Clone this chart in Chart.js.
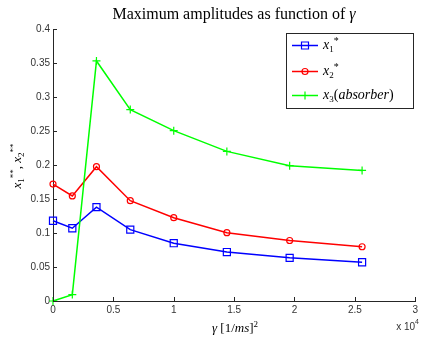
<!DOCTYPE html>
<html><head><meta charset="utf-8">
<script src="https://cdn.jsdelivr.net/npm/chart.js@4"></script>
<style>html,body{margin:0;padding:0;background:#fff}#wrap{width:421px;height:341px;position:relative}</style>
</head><body><div id="wrap"><canvas id="c" width="421" height="341"></canvas></div>
<script>
const gammaValues = [0, 1600, 3600, 6400, 10000, 14400, 19600, 25600];
const x1Values = [0.118, 0.107, 0.138, 0.105, 0.085, 0.072, 0.0635, 0.057];
const x2Values = [0.172, 0.1545, 0.1975, 0.1475, 0.1225, 0.1005, 0.089, 0.0798];
const x3Values = [0, 0.0094, 0.353, 0.2815, 0.2505, 0.220, 0.199, 0.192];
const xTickLabels = ['0', '0.5', '1', '1.5', '2', '2.5', '3'];
const yTickLabels = ['0', '0.05', '0.1', '0.15', '0.2', '0.25', '0.3', '0.35', '0.4'];

const SERIF = '"Liberation Serif", "DejaVu Serif", serif';
const SANS = '"Liberation Sans", Arial, sans-serif';
const BLUE = '#0000ff', RED = '#ff0000', GREEN = '#00ff00';

function pts(ys) { return gammaValues.map((g, i) => ({x: g, y: ys[i]})); }

function rich(ctx, segs, x, y, align) {
  let w = 0;
  segs.forEach(s => { ctx.font = s.f; w += ctx.measureText(s.t).width; });
  let cx = align === 'center' ? x - w / 2 : (align === 'right' ? x - w : x);
  ctx.textBaseline = 'alphabetic'; ctx.textAlign = 'left';
  segs.forEach(s => { ctx.font = s.f; ctx.fillText(s.t, cx, y + (s.dy || 0)); cx += ctx.measureText(s.t).width; });
  return w;
}

function marker(ctx, type, x, y, color) {
  ctx.save(); ctx.strokeStyle = color; ctx.lineWidth = 1.2; ctx.beginPath();
  if (type === 'rect') ctx.rect(x - 3.5, y - 3.5, 7, 7);
  else if (type === 'circle') ctx.arc(x, y, 3, 0, Math.PI * 2);
  else { ctx.moveTo(x - 4, y); ctx.lineTo(x + 4, y); ctx.moveTo(x, y - 4); ctx.lineTo(x, y + 4); }
  ctx.stroke(); ctx.restore();
}

const decor = {
  id: 'decor',
  afterDraw(chart) {
    const ctx = chart.ctx, xs = chart.scales.x, ys = chart.scales.y, a = chart.chartArea;
    ctx.save();
    // inner ticks
    ctx.strokeStyle = '#262626'; ctx.lineWidth = 1; ctx.beginPath();
    xs.ticks.forEach(t => { const px = Math.round(xs.getPixelForValue(t.value)) + 0.5; ctx.moveTo(px, a.bottom); ctx.lineTo(px, a.bottom - 4); });
    ys.ticks.forEach(t => { const py = Math.round(ys.getPixelForValue(t.value)) + 0.5; ctx.moveTo(a.left, py); ctx.lineTo(a.left + 4, py); });
    ctx.stroke();
    ctx.fillStyle = '#000';
    // title
    rich(ctx, [{t: 'Maximum amplitudes as function of ', f: '16px ' + SERIF}, {t: 'γ', f: 'italic 16px ' + SERIF}], 234, 19, 'center');
    // x label
    rich(ctx, [{t: 'γ', f: 'italic 13px ' + SERIF}, {t: ' [1/', f: '13px ' + SERIF}, {t: 'ms', f: 'italic 13px ' + SERIF}, {t: ']', f: '13px ' + SERIF}, {t: '2', f: '9px ' + SERIF, dy: -5}], 235, 332, 'center');
    // exponent
    ctx.fillStyle = '#333';
    rich(ctx, [{t: 'x 10', f: '10px ' + SANS}, {t: '4', f: '7px ' + SANS, dy: -6}], 419, 330, 'right');
    ctx.fillStyle = '#000';
    // y label
    ctx.save(); ctx.translate(21, 166); ctx.rotate(-Math.PI / 2);
    rich(ctx, [{t: 'x', f: 'italic 13px ' + SERIF}, {t: '1', f: '9px ' + SERIF, dy: 3}, {t: '**', f: '9px ' + SERIF, dy: -5}, {t: ', ', f: '13px ' + SERIF}, {t: 'x', f: 'italic 13px ' + SERIF}, {t: '2', f: '9px ' + SERIF, dy: 3}, {t: '**', f: '9px ' + SERIF, dy: -5}], 0, 0, 'center');
    ctx.restore();
    // legend
    ctx.fillStyle = '#fff'; ctx.fillRect(287, 34, 127, 75);
    ctx.strokeStyle = '#262626'; ctx.lineWidth = 1; ctx.strokeRect(286.5, 33.5, 127, 75);
    const rows = [
      {c: BLUE, m: 'rect', y: 45, segs: [{t: 'x', f: 'italic 14px ' + SERIF}, {t: '1', f: '9px ' + SERIF, dy: 3}, {t: '*', f: '10px ' + SERIF, dy: -5}]},
      {c: RED, m: 'circle', y: 71, segs: [{t: 'x', f: 'italic 14px ' + SERIF}, {t: '2', f: '9px ' + SERIF, dy: 3}, {t: '*', f: '10px ' + SERIF, dy: -5}]},
      {c: GREEN, m: 'cross', y: 95, segs: [{t: 'x', f: 'italic 14px ' + SERIF}, {t: '3', f: '9px ' + SERIF, dy: 3}, {t: '(', f: '14px ' + SERIF}, {t: 'absorber', f: 'italic 14px ' + SERIF}, {t: ')', f: '14px ' + SERIF}]}
    ];
    rows.forEach(r => {
      ctx.strokeStyle = r.c; ctx.lineWidth = 1.5; ctx.beginPath(); ctx.moveTo(292, r.y + 0.5); ctx.lineTo(318, r.y + 0.5); ctx.stroke();
      marker(ctx, r.m, 305, r.y + 0.5, r.c);
      ctx.fillStyle = '#000';
      rich(ctx, r.segs, 323, r.y + 4, 'left');
    });
    ctx.restore();
  }
};

function ds(label, ys, color, style, radius, order) {
  return {label, data: pts(ys), borderColor: color, backgroundColor: 'rgba(0,0,0,0)', borderWidth: 1.5,
    pointStyle: style, pointRadius: radius, pointBorderColor: color, pointBorderWidth: 1.2,
    pointBackgroundColor: 'rgba(0,0,0,0)', tension: 0, fill: false, order, clip: 6};
}

new Chart(document.getElementById('c'), {
  type: 'line',
  data: {datasets: [
    ds('x1*', x1Values, BLUE, 'rect', 5, 3),
    ds('x2*', x2Values, RED, 'circle', 3, 2),
    ds('x3(absorber)', x3Values, GREEN, 'cross', 4, 1)
  ]},
  options: {
    responsive: false, animation: false, devicePixelRatio: 1,
    layout: {autoPadding: false, padding: {top: 29, right: 3, left: 0, bottom: 0}},
    plugins: {legend: {display: false}, title: {display: false}, tooltip: {enabled: false}},
    scales: {
      x: {type: 'linear', min: 0, max: 30000,
        ticks: {stepSize: 5000, autoSkip: false, maxRotation: 0, padding: 3, color: '#333', font: {family: SANS, size: 10},
          callback: (v, i) => xTickLabels[i]},
        grid: {display: false, drawTicks: false, tickLength: 0}, border: {display: true, color: '#262626', width: 1},
        afterFit: s => { s.height = 40; }},
      y: {min: 0, max: 0.4,
        ticks: {stepSize: 0.05, autoSkip: false, padding: 3, color: '#333', font: {family: SANS, size: 10},
          callback: (v, i) => yTickLabels[i]},
        grid: {display: false, drawTicks: false, tickLength: 0}, border: {display: true, color: '#262626', width: 1},
        afterFit: s => { s.width = 53; }}
    }
  },
  plugins: [decor]
});
</script></body></html>
